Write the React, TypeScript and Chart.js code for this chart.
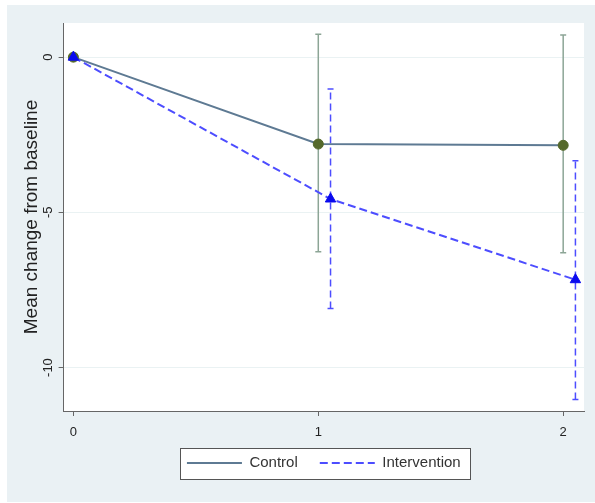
import React, { useEffect, useRef } from "react";
import { Chart, registerables } from "chart.js";

Chart.register(...registerables);

// ---- data ----
const xTickValues = [0, 1, 2];
const yTickValues = [0, -5, -10];

const controlX = [0, 1, 2];
const controlMean = [0, -2.8, -2.84];
const controlLow = [null, -6.27, -6.3];
const controlHigh = [null, 0.74, 0.71];

const interventionX = [0, 1.05, 2.05];
const interventionMean = [0, -4.57, -7.17];
const interventionLow = [null, -8.1, -11.03];
const interventionHigh = [null, -1.03, -3.34];

const seriesNames = ["Control", "Intervention"];

const ARIAL = "'Liberation Sans', Arial, sans-serif";

const CONTROL_LINE = "#5E7A93";
const CONTROL_MARK = "#55692B";
const CONTROL_CI = "#8CA596";
const INT_LINE = "#4D4DFF";
const INT_MARK = "#0A0AEE";

function errorBarSets(xs: number[], lows: (number | null)[], highs: (number | null)[], color: string, dash: number[]) {
  const sets: any[] = [];
  xs.forEach((x, i) => {
    const lo = lows[i];
    const hi = highs[i];
    if (lo === null || hi === null) return;
    sets.push({
      type: "line",
      label: "ci",
      data: [
        { x, y: lo },
        { x, y: hi },
      ],
      borderColor: color,
      borderWidth: 1.5,
      borderDash: dash,
      pointStyle: "line",
      pointRadius: 3,
      pointBorderColor: color,
      pointBorderWidth: 1.5,
      order: 3,
    });
  });
  return sets;
}

function legendRect(chart: any) {
  const hb = chart.legend && chart.legend.legendHitBoxes;
  if (!hb || !hb.length) return null;
  const left = Math.min(...hb.map((h: any) => h.left)) - 7;
  const right = Math.max(...hb.map((h: any) => h.left + h.width)) + 9;
  const cy = hb[0].top + hb[0].height / 2;
  return { x: Math.round(left) + 0.5, y: Math.round(cy - 15.5) + 0.5, w: Math.round(right - left), h: 31 };
}

const plotBg = {
  id: "plotBg",
  afterLayout(chart: any) {
    // let the x tick labels extend below the (compact) axis box without being clipped
    const xs = chart.scales.x;
    if (xs) xs.bottom = xs.bottom + 20;
  },
  beforeDraw(chart: any) {
    const { ctx, chartArea } = chart;
    ctx.save();
    ctx.fillStyle = "#ffffff";
    ctx.fillRect(chartArea.left, chartArea.top, chartArea.right - chartArea.left, chartArea.bottom - chartArea.top);
    const r = legendRect(chart);
    if (r) {
      ctx.fillRect(r.x, r.y, r.w, r.h);
      ctx.strokeStyle = "#555555";
      ctx.lineWidth = 1;
      ctx.strokeRect(r.x, r.y, r.w, r.h);
    }
    ctx.restore();
  },
};

export default function App() {
  const ref = useRef<HTMLCanvasElement | null>(null);
  useEffect(() => {
    if (!ref.current) return;
    const chart = new Chart(ref.current, {
      type: "line",
      data: {
        datasets: [
          {
            label: seriesNames[0],
            data: controlX.map((x, i) => ({ x, y: controlMean[i] })),
            borderColor: CONTROL_LINE,
            borderWidth: 2,
            pointStyle: "circle",
            pointRadius: 5,
            pointBackgroundColor: CONTROL_MARK,
            pointBorderColor: CONTROL_MARK,
            pointBorderWidth: 1,
            order: 1,
          },
          {
            label: seriesNames[1],
            data: interventionX.map((x, i) => ({ x, y: interventionMean[i] })),
            borderColor: INT_LINE,
            borderWidth: 2,
            borderDash: [8, 4],
            pointStyle: "triangle",
            pointRadius: 6,
            pointBackgroundColor: INT_MARK,
            pointBorderColor: INT_MARK,
            pointBorderWidth: 1,
            order: 0,
          },
          ...errorBarSets(controlX, controlLow, controlHigh, CONTROL_CI, []),
          ...errorBarSets(interventionX, interventionLow, interventionHigh, INT_LINE, [7, 4]),
        ] as any,
      },
      options: {
        animation: false,
        responsive: true,
        maintainAspectRatio: false,
        events: [],
        layout: { padding: { left: 0, right: 11, top: 18, bottom: 21.5 } },
        scales: {
          x: {
            type: "linear",
            min: -0.04,
            max: 2.085,
            afterBuildTicks: (s: any) => {
              s.ticks = xTickValues.map((v) => ({ value: v }));
            },
            afterFit: (s: any) => {
              s.height = 22.5;
            },
            ticks: { color: "#222", font: { family: ARIAL, size: 13, lineHeight: 1.2 }, padding: 8.2 },
            grid: { drawOnChartArea: false, drawTicks: true, tickLength: 5, tickColor: "#666", tickWidth: 1 },
            border: { display: true, color: "#666", width: 1 },
          },
          y: {
            type: "linear",
            min: -11.4,
            max: 1.1,
            afterBuildTicks: (s: any) => {
              s.ticks = yTickValues.map((v) => ({ value: v }));
            },
            ticks: {
              color: "#222",
              font: { family: ARIAL, size: 13 },
              minRotation: 90,
              maxRotation: 90,
              crossAlign: "center",
              padding: 1,
            },
            grid: { color: "#EAF2F3", lineWidth: 1, drawTicks: true, tickLength: 5, tickColor: "#666", tickWidth: 1 },
            border: { display: true, color: "#666", width: 1 },
            title: {
              display: true,
              text: "Mean change from baseline",
              color: "#222",
              font: { family: ARIAL, size: 19, lineHeight: 1 },
              padding: { top: 15, bottom: 0 },
            },
          },
        },
        plugins: {
          tooltip: { enabled: false },
          legend: {
            display: true,
            position: "bottom",
            fullSize: false,
            labels: {
              usePointStyle: true,
              pointStyleWidth: 55,
              padding: 22,
              color: "#333",
              font: { family: ARIAL, size: 15 },
              generateLabels: () => [
                {
                  text: seriesNames[0],
                  strokeStyle: CONTROL_LINE,
                  fillStyle: CONTROL_LINE,
                  lineWidth: 2,
                  lineDash: [],
                  pointStyle: "line",
                  hidden: false,
                  datasetIndex: 0,
                  fontColor: "#333",
                },
                {
                  text: seriesNames[1],
                  strokeStyle: INT_LINE,
                  fillStyle: INT_LINE,
                  lineWidth: 2,
                  lineDash: [8, 4],
                  pointStyle: "line",
                  hidden: false,
                  datasetIndex: 1,
                  fontColor: "#333",
                },
              ] as any,
            },
          },
        },
      } as any,
      plugins: [plotBg],
    });
    return () => chart.destroy();
  }, []);

  return (
    <div
      style={{
        position: "fixed",
        left: 7,
        top: 5,
        width: 588,
        height: 497,
        background: "#EAF1F4",
      }}
    >
      <canvas ref={ref} />
    </div>
  );
}
